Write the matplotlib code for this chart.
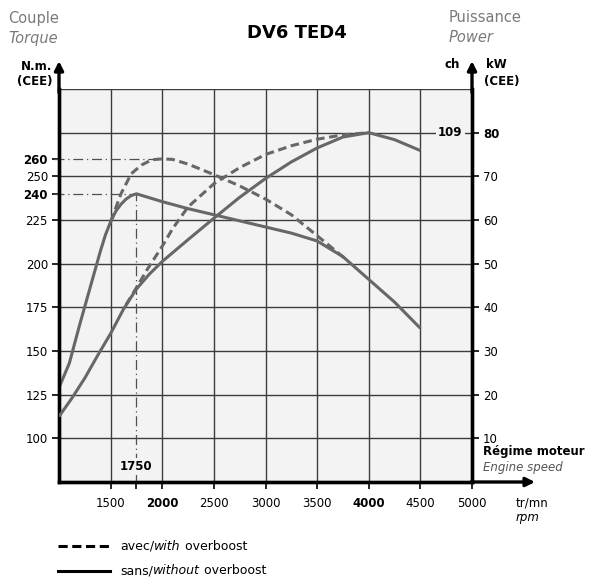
import matplotlib
matplotlib.use("Agg")
import matplotlib.pyplot as plt
from matplotlib.lines import Line2D

# ---------------- data ----------------
rpm_torque_sans = [1000, 1100, 1200, 1300, 1400, 1450, 1500, 1550, 1600, 1650, 1700, 1750,
                   2000, 2250, 2500, 2750, 3000, 3250, 3500, 3750, 4000, 4250, 4500]
torque_sans = [129, 143, 165, 186, 207, 216.5, 224, 230, 234, 237, 239, 240,
               235.5, 231.5, 228, 224.5, 221, 217.5, 213, 204, 191, 178, 163]

rpm_torque_avec = [1500, 1600, 1700, 1800, 1900, 2000, 2100, 2250, 2500, 2750, 3000,
                   3250, 3500, 3790]
torque_avec = [224, 240, 251.5, 256.5, 259.5, 260, 259.7, 257, 251, 244.5, 237,
               228, 216, 202]

rpm_power_sans = [1000, 1125, 1250, 1375, 1500, 1625, 1750, 1875, 2000, 2250, 2500,
                  2750, 3000, 3250, 3500, 3750, 4000, 4250, 4500]
power_sans = [15, 19.2, 23.8, 29, 34, 39.6, 44.2, 47.6, 50.5, 55.5, 60.4,
              65.2, 69.5, 73.3, 76.5, 79, 80, 78.4, 75.9]

rpm_power_avec = [1650, 1750, 1850, 2000, 2100, 2250, 2500, 2750, 3000, 3250, 3500,
                  3750, 4000]
power_avec = [40.6, 44.5, 48.5, 54, 58, 63, 68.3, 72, 75, 77, 78.5, 79.5, 80]

x_ticks = [1500, 2000, 2500, 3000, 3500, 4000, 4500, 5000]
x_bold = [2000, 4000]
y_ticks = [100, 125, 150, 175, 200, 225, 250]
y_marks = [240, 260]
kw_ticks = [10, 20, 30, 40, 50, 60, 70, 80]
grid_rpm = [1500, 2000, 2500, 3000, 3500, 4000, 4500]
grid_nm = [100, 125, 150, 175, 200, 225, 250, 275, 300]
peak_rpm = 1750
peak_power_ch = 109
peak_power_kw = 80
peak_power_rpm = 4000

# ---------------- figure ----------------
W, H = 594, 584
fig = plt.figure(figsize=(W / 100, H / 100), dpi=100)
fig.patch.set_facecolor("white")
L, R, B, T = 59, 472, 482, 89
ax = fig.add_axes([L / W, 1 - B / H, (R - L) / W, (B - T) / H])
ax.set_xlim(1000, 5000)
ax.set_ylim(75, 300)
bg = "#f3f3f3"
ax.set_facecolor(bg)

ax2 = ax.twinx()
ax2.set_ylim(0, 90)

gridc = "#3c3c3c"
for g in grid_rpm:
    ax.axvline(g, color=gridc, lw=1.0, zorder=1)
for g in grid_nm:
    ax.axhline(g, color=gridc, lw=1.0, zorder=1)

for a in (ax, ax2):
    a.spines["top"].set_visible(False)
    for s in ("left", "bottom", "right"):
        a.spines[s].set_linewidth(2.4)
        a.spines[s].set_color("black")

# arrows extending the axes
arr = dict(arrowstyle="-|>", lw=2.4, color="black", mutation_scale=13,
           shrinkA=0, shrinkB=0)
ax.annotate("", xy=(1000, 316), xytext=(1000, 298), arrowprops=arr,
            annotation_clip=False)
ax.annotate("", xy=(5000, 316), xytext=(5000, 298), arrowprops=arr,
            annotation_clip=False)
ax.annotate("", xy=(5610, 75), xytext=(4990, 75), arrowprops=arr,
            annotation_clip=False)

# ---------------- curves ----------------
cc = "#676767"
ax.plot(rpm_torque_sans, torque_sans, color=cc, lw=2.2, zorder=4,
        solid_capstyle="butt", solid_joinstyle="round")
ax.plot(rpm_torque_avec, torque_avec, color=cc, lw=2.2, zorder=4,
        ls=(0, (2.8, 1.5)))
ax2.plot(rpm_power_sans, power_sans, color=cc, lw=2.2, zorder=4,
         solid_capstyle="butt", solid_joinstyle="round")
ax2.plot(rpm_power_avec, power_avec, color=cc, lw=2.2, zorder=4,
         ls=(0, (2.8, 1.5)))

# dash-dot reference lines
dd = dict(color="#505050", lw=0.9, ls=(0, (8, 3, 1, 3)), zorder=3, clip_on=False)
ax.plot([950, 2000], [260, 260], **dd)
ax.plot([950, peak_rpm], [240, 240], **dd)
ax.plot([peak_rpm, peak_rpm], [75, 240], **dd)

# ---------------- ticks ----------------
ax.set_xticks(x_ticks)
ax.set_xticklabels([str(v) for v in x_ticks], fontsize=8.5)
for lab, v in zip(ax.get_xticklabels(), x_ticks):
    if v in x_bold:
        lab.set_fontweight("bold")
ax.set_xticks([peak_rpm], minor=True)
ax.tick_params(axis="x", which="both", direction="out", length=5, width=1.2,
               pad=6, color="black")

ax.set_yticks(y_ticks)
ax.set_yticklabels([str(v) for v in y_ticks], fontsize=8.5)
ax.set_yticks(y_marks, minor=True)
ax.set_yticklabels([str(v) for v in y_marks], minor=True, fontsize=8.5,
                   fontweight="bold")
ax.tick_params(axis="y", which="both", direction="out", length=5, width=1.2,
               pad=3, color="black")

ax2.set_yticks(kw_ticks)
ax2.set_yticklabels([str(v) for v in kw_ticks], fontsize=8.5)
for lab, v in zip(ax2.get_yticklabels(), kw_ticks):
    if v == peak_power_kw:
        lab.set_fontweight("bold")
ax2.tick_params(axis="y", direction="out", length=5, width=1.2, pad=3,
                color="black")

# 109 ch label
ax2.text(4790, peak_power_kw, str(peak_power_ch), ha="center", va="center",
         fontsize=8.5, fontweight="bold", zorder=5,
         bbox=dict(facecolor=bg, edgecolor="none", pad=1.5))
# 1750 label
ax.text(peak_rpm, 84, str(peak_rpm), ha="center", va="center", fontsize=8.5,
        fontweight="bold", zorder=5,
        bbox=dict(facecolor=bg, edgecolor="none", pad=1.5))

# ---------------- texts ----------------
def ft(x, y, s, **kw):
    return fig.text(x / W, 1 - y / H, s, **kw)

grey = "#7a7a7a"
ft(297, 33, "DV6 TED4", ha="center", va="center", fontsize=13, fontweight="bold")
ft(8, 18, "Couple", ha="left", va="center", fontsize=10.5, color=grey)
ft(8, 38, "Torque", ha="left", va="center", fontsize=10.5, color=grey, style="italic")
ft(52, 66, "N.m.", ha="right", va="center", fontsize=8.5, fontweight="bold")
ft(52, 82, "(CEE)", ha="right", va="center", fontsize=8.5, fontweight="bold")
ft(449, 18, "Puissance", ha="left", va="center", fontsize=10.5, color=grey)
ft(449, 38, "Power", ha="left", va="center", fontsize=10.5, color=grey, style="italic")
ft(460, 64, "ch", ha="right", va="center", fontsize=8.5, fontweight="bold")
ft(486, 64, "kW", ha="left", va="center", fontsize=8.5, fontweight="bold")
ft(484, 82, "(CEE)", ha="left", va="center", fontsize=8.5, fontweight="bold")
ft(483, 452, "Régime moteur", ha="left", va="center", fontsize=8.5, fontweight="bold")
ft(483, 468, "Engine speed", ha="left", va="center", fontsize=8.5, style="italic",
   color="#555555")
ft(516, 503, "tr/mn", ha="left", va="center", fontsize=8.5)
ft(516, 517, "rpm", ha="left", va="center", fontsize=8.5, style="italic")

# legend rows with mixed styles
def chain(y, parts, ls):
    fig.add_artist(Line2D([58 / W, 110 / W], [1 - y / H, 1 - y / H], color="black",
                          lw=2.2, ls=ls))
    prev = ft(120, y, parts[0][0], ha="left", va="center", fontsize=9,
              style=parts[0][1])
    for s, st in parts[1:]:
        prev = ax.annotate(s, xy=(1, 0.5), xycoords=prev, ha="left", va="center",
                           fontsize=9, style=st, annotation_clip=False)

chain(546, [("avec/", "normal"), ("with", "italic"), (" overboost", "normal")],
      (0, (3, 1.5)))
chain(571, [("sans/", "normal"), ("without", "italic"), (" overboost", "normal")],
      "-")

fig.savefig("out.png", dpi=100, facecolor="white")
